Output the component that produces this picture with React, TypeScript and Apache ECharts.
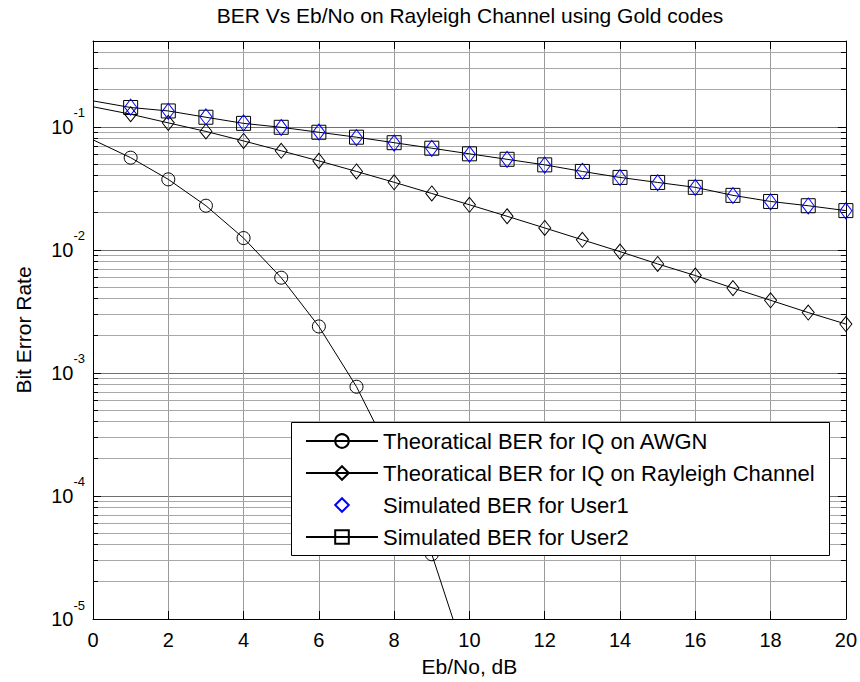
import React, { useEffect, useRef } from 'react';
import * as echarts from 'echarts';

// ---------------- data ----------------
const ebNo = [0, 1, 2, 3, 4, 5, 6, 7, 8, 9, 10, 11, 12, 13, 14, 15, 16, 17, 18, 19, 20];

// Theoretical BER for IQ on AWGN (x = 0..10; the last point lies below the axis)
const awgnBer = [0.0786, 0.0563, 0.0375, 0.0229, 0.0125, 0.00595, 0.00239, 0.000773, 0.000191, 0.0000336, 0.0000039];

// Theoretical BER for IQ on Rayleigh Channel (x = 0..20)
const rayleighBer = [0.146, 0.127, 0.108, 0.092, 0.077, 0.064, 0.053, 0.0435, 0.0355, 0.0288, 0.0233,
  0.0188, 0.0151, 0.0121, 0.0097, 0.0077, 0.0062, 0.0049, 0.0039, 0.0031, 0.0025];

// Simulated BER for User1 (x = 1..20)
const user1Ber = [null, 0.145, 0.134, 0.121, 0.108, 0.099, 0.091, 0.082, 0.074, 0.067, 0.060,
  0.0545, 0.049, 0.0437, 0.0388, 0.0352, 0.0322, 0.0277, 0.0246, 0.0228, 0.0208];

// Simulated BER for User2 (x = 0..20)
const user2Ber = [0.163, 0.144, 0.135, 0.120, 0.107, 0.0994, 0.0906, 0.0826, 0.0745, 0.0672, 0.0605,
  0.0546, 0.0492, 0.0435, 0.0389, 0.0354, 0.0323, 0.0278, 0.0248, 0.0229, 0.0209];

const seriesNames = [
  'Theoratical BER for IQ on AWGN',
  'Theoratical BER for IQ on Rayleigh Channel',
  'Simulated BER for User1',
  'Simulated BER for User2',
];

const titleText = 'BER Vs Eb/No on Rayleigh Channel using Gold codes';
const xName = 'Eb/No, dB';
const yName = 'Bit Error Rate';

const X_MIN = 0;
const X_MAX = 20;
const X_STEP = 2;
const Y_MIN = 1e-5;
const Y_MAX = 0.5;

// minor log grid positions: mantissas x decades
const minorMantissas = [2, 3, 4, 5, 6, 7, 8, 9];
const minorDecades = [-5, -4, -3, -2, -1];

const FONT = "'Liberation Sans', Arial, Helvetica, sans-serif";

function buildLineData(values: (number | null)[]) {
  const out: any[] = [];
  values.forEach((v, i) => {
    if (v == null) return;
    out.push({ value: [ebNo[i], v], symbol: i === 0 ? 'none' : undefined });
  });
  return out;
}

export default function App() {
  const ref = useRef<HTMLDivElement>(null);

  useEffect(() => {
    document.body.style.margin = '0';
    if (!ref.current) return;
    const chart = echarts.init(ref.current, undefined, { renderer: 'svg' });

    const minorValues: number[] = [];
    minorDecades.forEach((e) => {
      minorMantissas.forEach((m) => {
        const v = m * Math.pow(10, e);
        if (v < Y_MAX) minorValues.push(v);
      });
    });

    const crisp = (p: number) => Math.round(p - 0.5) + 0.5;

    const hollow = (color: string) => ({ color: 'rgba(0,0,0,0)', borderColor: color, borderWidth: 1 });

    const option: any = {
      animation: false,
      textStyle: { fontFamily: FONT },
      title: {
        text: titleText,
        left: 470,
        top: 5,
        textAlign: 'center',
        padding: 0,
        textStyle: { fontSize: 21, fontWeight: 'normal', color: '#000', fontFamily: FONT },
      },
      grid: { left: 93, right: 14, top: 41, bottom: 61, containLabel: false },
      legend: {
        data: seriesNames,
        orient: 'vertical',
        left: 291,
        top: 422,
        padding: [8, 12, 8, 14],
        itemWidth: 72,
        itemHeight: 17,
        itemGap: 10,
        selectedMode: false,
        textStyle: { fontSize: 22, lineHeight: 22, color: '#000', fontFamily: FONT },
        z: 5,
      },
      graphic: [
        {
          type: 'rect',
          z: 4,
          shape: { x: 291.5, y: 422.5, width: 538, height: 133 },
          style: { fill: '#fff', stroke: '#000', lineWidth: 1 },
          silent: true,
        },
      ],
      xAxis: [
        {
          type: 'value',
          min: X_MIN,
          max: X_MAX,
          interval: X_STEP,
          position: 'bottom',
          name: xName,
          nameLocation: 'middle',
          nameGap: 37,
          nameTextStyle: { fontSize: 21, color: '#000', fontFamily: FONT },
          axisLine: { show: true, onZero: false, lineStyle: { color: '#000', width: 1 } },
          axisTick: { show: true, inside: true, length: 8, lineStyle: { color: '#000', width: 1 } },
          axisLabel: { fontSize: 20, color: '#000', margin: 11, fontFamily: FONT },
          splitLine: { show: true, lineStyle: { color: '#9a9a9a', width: 1 } },
        },
        {
          type: 'value',
          min: X_MIN,
          max: X_MAX,
          interval: X_STEP,
          position: 'top',
          axisLine: { show: true, onZero: false, lineStyle: { color: '#000', width: 1 } },
          axisTick: { show: true, inside: true, length: 8, lineStyle: { color: '#000', width: 1 } },
          axisLabel: { show: false },
          splitLine: { show: false },
        },
      ],
      yAxis: [
        {
          type: 'log',
          logBase: 10,
          min: Y_MIN,
          max: Y_MAX,
          position: 'left',
          name: yName,
          nameLocation: 'middle',
          nameGap: 59,
          nameTextStyle: { fontSize: 21, color: '#000', fontFamily: FONT },
          axisLine: { show: true, onZero: false, lineStyle: { color: '#000', width: 1 } },
          axisTick: { show: true, inside: true, length: 8, lineStyle: { color: '#000', width: 1 } },
          axisLabel: {
            margin: 8,
            color: '#000',
            formatter: (val: number) => {
              const e = Math.log10(val);
              const r = Math.round(e);
              if (Math.abs(e - r) > 1e-6) return '';
              return '{b|10}{s|' + r + '}';
            },
            rich: {
              b: { fontSize: 20, lineHeight: 20, color: '#000', fontFamily: FONT },
              s: { fontSize: 13, lineHeight: 13, padding: [0, 0, 28, 0], color: '#000', fontFamily: FONT },
            },
          },
          splitLine: { show: true, lineStyle: { color: '#707070', width: 1 } },
        },
        {
          type: 'log',
          logBase: 10,
          min: Y_MIN,
          max: Y_MAX,
          position: 'right',
          axisLine: { show: true, onZero: false, lineStyle: { color: '#000', width: 1 } },
          axisTick: { show: true, inside: true, length: 8, lineStyle: { color: '#000', width: 1 } },
          axisLabel: { show: false },
          splitLine: { show: false },
        },
      ],
      series: [
        {
          type: 'custom',
          name: 'minor-grid',
          silent: true,
          z: 1,
          xAxisIndex: 0,
          yAxisIndex: 0,
          data: minorValues.map((v) => [X_MIN, v]),
          renderItem: (_params: any, api: any) => {
            const v = api.value(1);
            const a = api.coord([X_MIN, v]);
            const b = api.coord([X_MAX, v]);
            const y = crisp(a[1]);
            return {
              type: 'group',
              children: [
                { type: 'line', shape: { x1: a[0], y1: y, x2: b[0], y2: y }, style: { stroke: '#a8a8a8', lineWidth: 1 } },
                { type: 'line', shape: { x1: a[0], y1: y, x2: a[0] + 5, y2: y }, style: { stroke: '#000', lineWidth: 1 } },
                { type: 'line', shape: { x1: b[0] - 5, y1: y, x2: b[0], y2: y }, style: { stroke: '#000', lineWidth: 1 } },
              ],
            };
          },
        },
        {
          type: 'line',
          name: seriesNames[0],
          data: buildLineData(awgnBer),
          symbol: 'circle',
          symbolSize: 13,
          showAllSymbol: true,
          clip: true,
          lineStyle: { color: '#000', width: 1 },
          itemStyle: hollow('#000'),
          z: 2,
        },
        {
          type: 'line',
          name: seriesNames[1],
          data: buildLineData(rayleighBer),
          symbol: 'diamond',
          symbolSize: [12, 15],
          showAllSymbol: true,
          clip: true,
          lineStyle: { color: '#000', width: 1 },
          itemStyle: hollow('#000'),
          z: 2,
        },
        {
          type: 'line',
          name: seriesNames[2],
          data: buildLineData(user1Ber),
          symbol: 'diamond',
          symbolSize: [12, 16],
          showAllSymbol: true,
          clip: true,
          lineStyle: { color: 'rgba(0,0,0,0)', width: 0 },
          itemStyle: hollow('#0000ff'),
          z: 3,
        },
        {
          type: 'line',
          name: seriesNames[3],
          data: buildLineData(user2Ber),
          symbol: 'rect',
          symbolSize: 14,
          showAllSymbol: true,
          clip: true,
          lineStyle: { color: '#000', width: 1 },
          itemStyle: hollow('#000'),
          z: 2,
        },
      ],
    };

    chart.setOption(option);
    return () => {
      chart.dispose();
    };
  }, []);

  return (
    <div
      ref={ref}
      style={{ position: 'fixed', left: 0, top: 0, width: 860, height: 682, background: '#fff' }}
    />
  );
}
